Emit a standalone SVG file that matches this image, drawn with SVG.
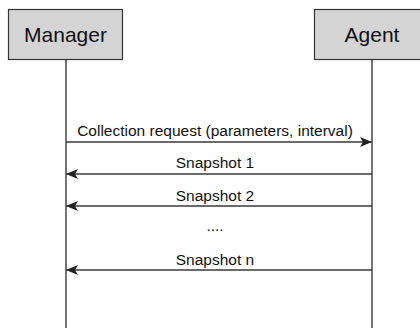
<svg xmlns="http://www.w3.org/2000/svg" width="420" height="329" viewBox="0 0 420 329">
<style>
.box{fill:#d4d4d4;stroke:#333;stroke-width:1.2}
.life{stroke:#3a3a3a;stroke-width:1.4;fill:none}
.msg{stroke:#3a3a3a;stroke-width:1.4;fill:none;marker-end:url(#ah)}
.t{font-family:"Liberation Sans",Arial,sans-serif;fill:#111}
.big{font-size:21px}
.lbl{font-size:15.5px;text-anchor:middle}
</style>
<defs>
<marker id="ah" viewBox="0 0 12 10" refX="12" refY="5" markerWidth="12" markerHeight="10" markerUnits="userSpaceOnUse" orient="auto">
<path d="M0,0 L12,5 L0,10 L3,5 Z" fill="#222"/>
</marker>
</defs>
<rect width="420" height="329" fill="#fff"/>
<g id="manager">
<rect class="box" x="8.5" y="9.5" width="114" height="50"/>
<text class="t big" x="65.5" y="42" text-anchor="middle">Manager</text>
</g>
<g id="agent">
<rect class="box" x="314.5" y="9.5" width="116" height="50"/>
<text class="t big" x="372" y="42" text-anchor="middle">Agent</text>
</g>
<g id="connectors">
<line class="life" x1="66" y1="60" x2="66" y2="328"/>
<line class="life" x1="372" y1="60" x2="372" y2="328"/>
<line class="msg" x1="66" y1="142" x2="372" y2="142"/>
<line class="msg" x1="372" y1="174" x2="66" y2="174"/>
<line class="msg" x1="372" y1="206" x2="66" y2="206"/>
<line class="msg" x1="372" y1="270" x2="66" y2="270"/>
</g>
<g id="labels">
<text class="t lbl" x="215" y="136">Collection request (parameters, interval)</text>
<text class="t lbl" x="215" y="168">Snapshot 1</text>
<text class="t lbl" x="215" y="201">Snapshot 2</text>
<text class="t lbl" x="215" y="231">....</text>
<text class="t lbl" x="215" y="265">Snapshot n</text>
</g>
</svg>
